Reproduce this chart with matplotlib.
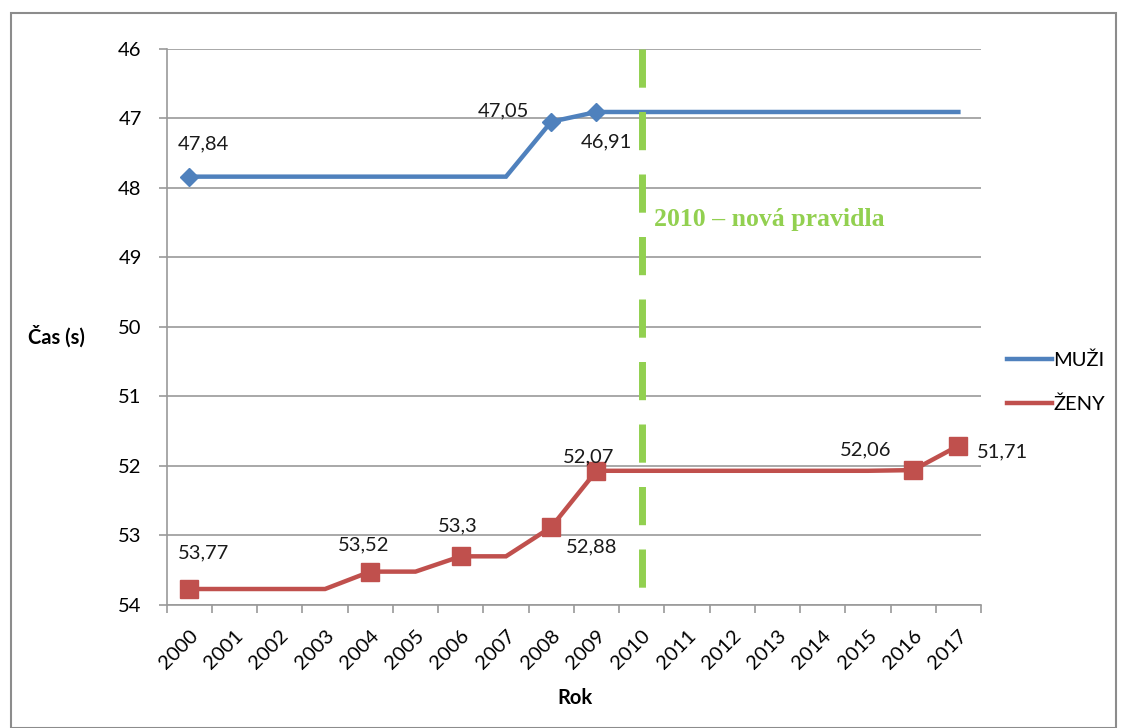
import matplotlib.pyplot as plt
import numpy as np
from matplotlib.patches import Rectangle

years = list(range(2000, 2018))
muzi = [47.84, 47.84, 47.84, 47.84, 47.84, 47.84, 47.84, 47.84, 47.05, 46.91,
        46.91, 46.91, 46.91, 46.91, 46.91, 46.91, 46.91, 46.91]
zeny = [53.77, 53.77, 53.77, 53.77, 53.52, 53.52, 53.3, 53.3, 52.88, 52.07,
        52.07, 52.07, 52.07, 52.07, 52.07, 52.07, 52.06, 51.71]
muzi_marked = [0, 8, 9]
zeny_marked = [0, 4, 6, 8, 9, 16, 17]
rule_year = 2010

BLUE = "#4F81BD"
RED = "#C0504D"
GREEN = "#92D050"
GRID = "#9A9A9A"

plt.rcParams['font.family'] = ['Lato', 'DejaVu Sans']

fig = plt.figure(figsize=(11.22, 7.28), dpi=100)
W, H = 1122, 728
ax = fig.add_axes([166.7 / W, 1 - 605 / H, (981 - 166.7) / W, (605 - 48.7) / H])

x = np.arange(len(years))
ax.plot(x, muzi, color=BLUE, lw=3.2, marker='D', ms=9.5, markevery=muzi_marked,
        label='MUŽI', solid_joinstyle='miter')
ax.plot(x, zeny, color=RED, lw=3.2, marker='s', ms=12.5, markevery=zeny_marked,
        label='ŽENY', solid_joinstyle='miter')

# vertical marker for new rules
xr = years.index(rule_year)
ax.plot([xr, xr], [46, 54], color=GREEN, lw=5, dashes=(5.5, 3.5))
ax.text(xr + 0.28, 48.45, '2010 – nová pravidla', color=GREEN, fontsize=18.5,
        fontweight='bold', family='Liberation Serif', va='center', ha='left')

# data labels (index, value, offset in pixels)
labels = [
    (muzi, 0, (14, 33)), (muzi, 8, (-48, 11)), (muzi, 9, (10, -30)),
    (zeny, 0, (14, 36)), (zeny, 4, (-7, 27)), (zeny, 6, (-3, 30)),
    (zeny, 8, (40, -20)), (zeny, 9, (-8, 14)), (zeny, 16, (-48, 20)),
    (zeny, 17, (44, -6)),
]
for series, i, off in labels:
    txt = f"{series[i]:g}".replace('.', ',')
    ax.annotate(txt, (x[i], series[i]), xytext=off, textcoords='offset pixels',
                ha='center', va='center', fontsize=14.5, color='#1a1a1a')

ax.set_ylim(54, 46)
ax.set_yticks(range(46, 55))
ax.set_xlim(-0.5, len(years) - 0.5)
ax.set_xticks(x)
ax.set_xticklabels([str(y) for y in years], rotation=45, ha='right',
                   rotation_mode='anchor', fontsize=14.5)
ax.set_xticks(np.arange(-0.5, len(years)), minor=True)
ax.tick_params(axis='x', which='major', length=0, pad=16)
ax.tick_params(axis='x', which='minor', length=6, color=GRID, width=1.2)
ax.tick_params(axis='y', length=6, color=GRID, width=1.2, labelsize=14.5, pad=12)
ax.grid(axis='y', color=GRID, lw=1.2)
ax.set_axisbelow(True)
for s in ['top', 'right']:
    ax.spines[s].set_visible(False)
for s in ['left', 'bottom']:
    ax.spines[s].set_color(GRID)
    ax.spines[s].set_linewidth(1.2)

fig.text(56 / W, 1 - 337 / H, 'Čas (s)', fontsize=14.5, fontweight='bold',
         ha='center', va='center')
fig.text(575 / W, 1 - 698 / H, 'Rok', fontsize=14.5, fontweight='bold',
         ha='center', va='center')

ax.legend(loc='center left', bbox_to_anchor=(1.01, 0.40), frameon=False,
          fontsize=14.5, handlelength=2.2, handletextpad=0.1, labelspacing=1.3,
          markerscale=0)

fig.add_artist(Rectangle((11 / W, 0), (1116 - 11) / W, 1 - 13 / H,
                         transform=fig.transFigure, fill=False,
                         edgecolor='#8c8c8c', lw=1.5))

fig.savefig('out.png', dpi=100)
